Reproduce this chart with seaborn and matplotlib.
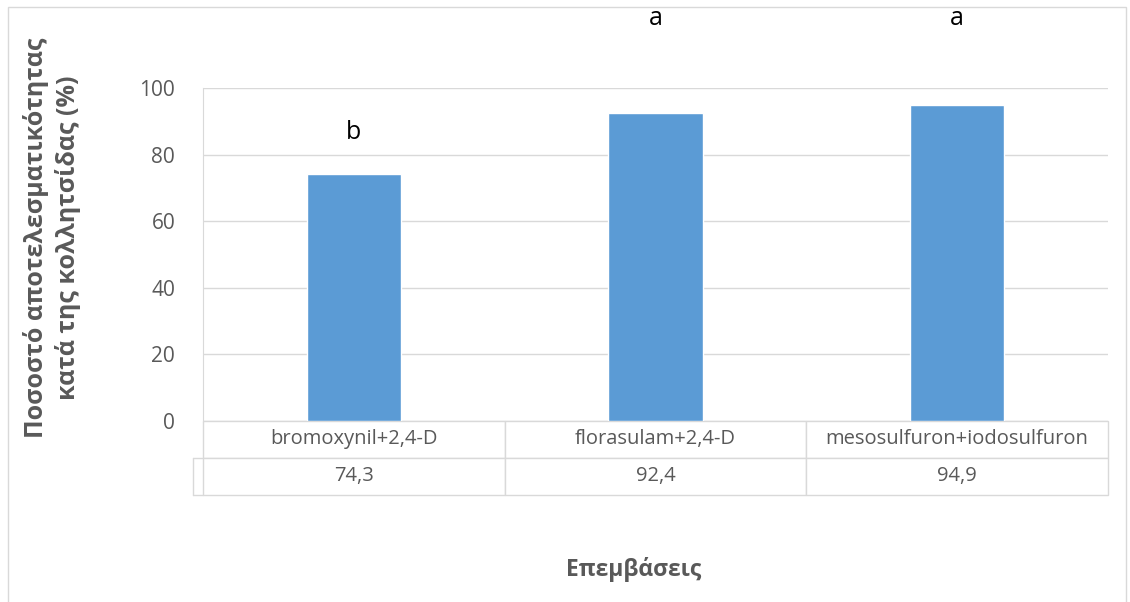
import matplotlib
matplotlib.use("Agg")
import matplotlib.pyplot as plt
import seaborn as sns
from matplotlib.patches import Rectangle

# Data
categories = ["bromoxynil+2,4-D", "florasulam+2,4-D", "mesosulfuron+iodosulfuron"]
values = [74.3, 92.4, 94.9]
value_labels = ["74,3", "92,4", "94,9"]
letters = ["b", "a", "a"]
letter_y = [86.5, 121, 121]
yticks = [0, 20, 40, 60, 80, 100]

sns.set_style("white")
plt.rcParams["font.family"] = ["Open Sans", "DejaVu Sans"]

grey = "#595959"
line_grey = "#D9D9D9"

fig = plt.figure(figsize=(11.3, 6.02), dpi=100)
ax = fig.add_axes([203 / 1130, 1 - 421 / 602, 905 / 1130, 333 / 602])

sns.barplot(x=categories, y=values, color="#5B9BD5", width=0.313,
            saturation=1, ax=ax)

ax.set_xlim(-0.5, len(categories) - 0.5)
ax.set_ylim(0, 100)
ax.set_yticks(yticks)
ax.set_yticklabels([str(t) for t in yticks], color=grey, fontsize=15)
ax.tick_params(axis="y", length=0, pad=20)
ax.set_xticks([])
ax.set_xlabel("")
ax.set_ylabel("")
ax.yaxis.grid(True, color=line_grey, linewidth=1)
ax.set_axisbelow(True)
for s in ["top", "right", "bottom"]:
    ax.spines[s].set_visible(False)
ax.spines["left"].set_color(line_grey)

# significance letters
for i, (let, y) in enumerate(zip(letters, letter_y)):
    ax.text(i, y, let, ha="center", va="center", fontsize=18, color="black",
            clip_on=False)

# data table under the plot
tbl = ax.table(cellText=[categories, value_labels], cellLoc="center",
               bbox=[0, -0.222, 1, 0.222])
tbl.auto_set_font_size(False)
for cell in tbl.get_celld().values():
    cell.set_edgecolor(line_grey)
    cell.set_linewidth(1)
    cell.get_text().set_color(grey)
    cell.get_text().set_fontsize(14.5)

# small left extension of the value row (legend key column)
ext = -10 / 905
ax.plot([ext, 0], [-0.111, -0.111], color=line_grey, lw=1,
        transform=ax.transAxes, clip_on=False)
ax.plot([ext, 0], [-0.222, -0.222], color=line_grey, lw=1,
        transform=ax.transAxes, clip_on=False)
ax.plot([ext, ext], [-0.111, -0.222], color=line_grey, lw=1,
        transform=ax.transAxes, clip_on=False)

fig.text(52 / 1130, 1 - 238 / 602,
         "Ποσοστό αποτελεσματικότητας\nκατά της κολλητσίδας (%)",
         rotation=90, ha="center", va="center", multialignment="center",
         fontsize=18, fontweight="bold", color=grey, linespacing=1.3)
fig.text(634 / 1130, 1 - 570 / 602, "Επεμβάσεις", ha="center", va="center",
         fontsize=16.5, fontweight="bold", color=grey)

# chart frame
fig.patches.append(Rectangle((8 / 1130, -0.02), 1118 / 1130, 1.02 - 7 / 602,
                             transform=fig.transFigure, fill=False,
                             edgecolor=line_grey, linewidth=1))

fig.savefig("out.png", dpi=100)
